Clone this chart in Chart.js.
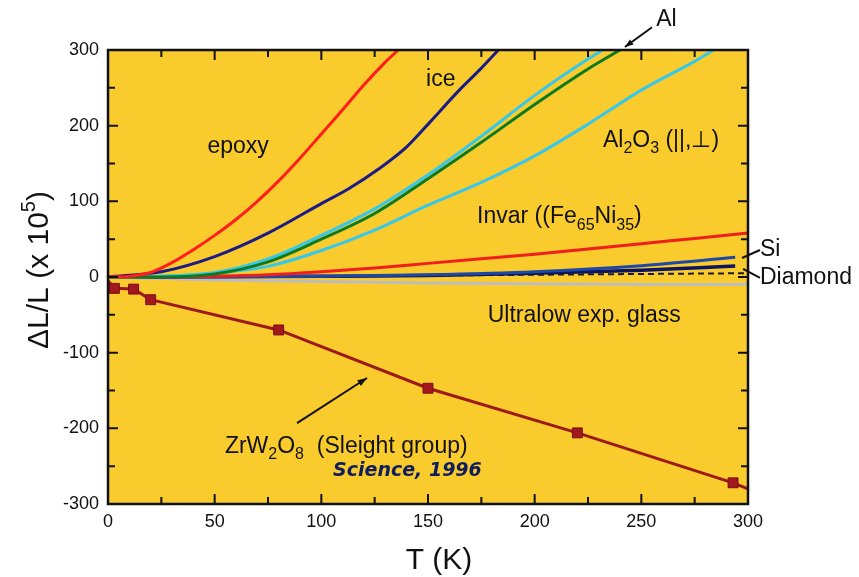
<!DOCTYPE html>
<html>
<head>
<meta charset="utf-8">
<script src="https://cdn.jsdelivr.net/npm/chart.js@4/dist/chart.umd.min.js"></script>
<style>
  html, body { margin: 0; padding: 0; background: #fff; }
  #wrap { width: 859px; height: 577px; }
</style>
</head>
<body>
<div id="wrap"><canvas id="chart" width="859" height="577"></canvas></div>
<script>
// temperatures (K) and dL/L (x 10^5)
const T_EPOXY = [0, 10, 20, 30, 40, 50, 60, 70, 80, 90, 100, 110, 120, 130, 136];
const EPOXY = [0, 1, 6, 19, 36, 55, 76, 100, 127, 157, 189, 221, 254, 284, 300];

const T_ICE = [0, 25, 50, 75, 100, 113, 127, 140, 151, 164, 175, 183];
const ICE = [0, 7, 27, 58, 97, 117, 143, 172, 205, 245, 276, 300];

const T_AL = [0, 25, 50, 75, 100, 125, 150, 175, 200, 225, 240];
const AL = [0, 0, 4, 20, 50, 84, 130, 178, 228, 275, 300];

const T_AL2O3_PAR = [0, 25, 50, 75, 100, 125, 150, 175, 200, 225, 232];
const AL2O3_PAR = [0, 1, 6, 24, 55, 90, 135, 186, 240, 288, 300];

const T_AL2O3_PERP = [0, 25, 50, 75, 100, 125, 150, 175, 200, 225, 250, 275, 284];
const AL2O3_PERP = [0, 1, 5, 14, 35, 62, 95, 125, 160, 202, 247, 285, 300];

const T_INVAR = [0, 25, 50, 75, 100, 125, 150, 175, 200, 225, 250, 275, 300];
const INVAR = [0, 0, 1, 3, 7, 12, 18, 24, 30, 37, 44, 51, 58];

const T_SI = [0, 50, 100, 150, 200, 250, 294];
const SI = [0, 0, 1, 3, 7, 15, 26];

const T_NAVY = [0, 100, 150, 200, 250, 294];
const NAVY = [0, 1, 2, 5, 9, 14.5];

const T_DIAMOND = [0, 100, 200, 300];
const DIAMOND = [0, 1, 3, 5];

const T_GLASS = [0, 50, 100, 150, 200, 250, 300];
const GLASS = [0, -4, -6, -8, -9, -10, -10];

const T_ZRW = [0, 3, 12, 20, 80, 150, 220, 293, 300];
const ZRW = [-5, -15, -16, -30, -70, -147, -206, -272, -280];
const ZRW_MARKER = [0, 7, 7, 7, 7, 7, 7, 7, 0];

const X_TICKS = [0, 50, 100, 150, 200, 250, 300];
const Y_TICKS = [-300, -200, -100, 0, 100, 200, 300];

const FONT = '"Liberation Sans", Arial, Helvetica, sans-serif';

const pts = (xs, ys) => xs.map((x, i) => ({ x, y: ys[i] }));

const curve = (label, xs, ys, color, extra) => Object.assign({
  label,
  data: pts(xs, ys),
  borderColor: color,
  backgroundColor: color,
  borderWidth: 3,
  pointRadius: 0,
  cubicInterpolationMode: 'monotone',
  fill: false
}, extra || {});

const datasets = [
  curve('ZrW2O8', T_ZRW, ZRW, '#9C1A1E', {
    pointRadius: ZRW_MARKER,
    pointStyle: 'rect',
    pointBackgroundColor: '#A3171F',
    pointBorderColor: '#7A0E12',
    pointBorderWidth: 1,
    cubicInterpolationMode: 'default',
    tension: 0,
    order: 0
  }),
  curve('epoxy', T_EPOXY, EPOXY, '#FF1E1E', { order: 1 }),
  curve('ice', T_ICE, ICE, '#1C1C86', { order: 2 }),
  curve('Al', T_AL, AL, '#0E7A1E', { order: 3 }),
  curve('Al2O3 par', T_AL2O3_PAR, AL2O3_PAR, '#35C8EC', { order: 4 }),
  curve('Al2O3 perp', T_AL2O3_PERP, AL2O3_PERP, '#35C8EC', { order: 5 }),
  curve('Invar', T_INVAR, INVAR, '#F01E1E', { order: 6 }),
  curve('Si', T_SI, SI, '#1E48A6', { order: 7 }),
  curve('navy', T_NAVY, NAVY, '#0C1660', { order: 8, borderWidth: 3.5 }),
  curve('Diamond', T_DIAMOND, DIAMOND, '#1A1A1A', { order: 9, borderWidth: 2, borderDash: [6, 4] }),
  curve('glass', T_GLASS, GLASS, '#BDBDBD', { order: 10 })
];

// rich text: segments [text, 'sub'|'sup'|undefined]
function richText(ctx, segs, x, y, size, color, align) {
  const runs = segs.map(([t, k]) => ({ t, k, s: k ? Math.round(size * 0.68) : size }));
  let total = 0;
  runs.forEach(r => { ctx.font = `${r.s}px ${FONT}`; r.w = ctx.measureText(r.t).width; total += r.w; });
  let cx = align === 'center' ? x - total / 2 : x;
  ctx.fillStyle = color;
  ctx.textAlign = 'left';
  ctx.textBaseline = 'alphabetic';
  runs.forEach(r => {
    ctx.font = `${r.s}px ${FONT}`;
    const dy = r.k === 'sub' ? size * 0.28 : r.k === 'sup' ? -size * 0.42 : 0;
    ctx.fillText(r.t, cx, y + dy);
    cx += r.w;
  });
}

function arrow(ctx, x1, y1, x2, y2, head) {
  ctx.beginPath();
  ctx.moveTo(x1, y1);
  ctx.lineTo(x2, y2);
  ctx.stroke();
  if (!head) return;
  const a = Math.atan2(y2 - y1, x2 - x1);
  ctx.beginPath();
  ctx.moveTo(x2, y2);
  ctx.lineTo(x2 - head * Math.cos(a - 0.35), y2 - head * Math.sin(a - 0.35));
  ctx.lineTo(x2 - head * Math.cos(a + 0.35), y2 - head * Math.sin(a + 0.35));
  ctx.closePath();
  ctx.fill();
}

const labels = [
  { at: [61, 164], segs: [['epoxy']], align: 'center', size: 23 },
  { at: [156, 253], segs: [['ice']], align: 'center', size: 23 },
  { at: [257, 332], segs: [['Al']], size: 23 },
  { at: [232, 172], segs: [['Al'], ['2', 'sub'], ['O'], ['3', 'sub'], [' (||,\u22A5)']], size: 23 },
  { at: [173, 71], segs: [['Invar ((Fe'], ['65', 'sub'], ['Ni'], ['35', 'sub'], [')']], size: 23 },
  { at: [305.6, 27.7], segs: [['Si']], size: 23 },
  { at: [305.6, -9.5], segs: [['Diamond']], size: 23 },
  { at: [178, -59.5], segs: [['Ultralow exp. glass']], size: 23 },
  { at: [54.8, -232.6], segs: [['ZrW'], ['2', 'sub'], ['O'], ['8', 'sub'], ['  (Sleight group)']], size: 23 }
];

const pointers = [
  { from: [255, 330], to: [242.3, 304], head: 9 },
  { from: [305.6, 35.7], to: [297.2, 25.1], head: 0 },
  { from: [305.6, -1.3], to: [297.7, 10.6], head: 0 },
  { from: [88.6, -193], to: [121.4, -133.5], head: 10 }
];

const framePlugin = {
  id: 'frame',
  beforeDraw(chart) {
    const { ctx, chartArea: a } = chart;
    ctx.save();
    ctx.fillStyle = '#F9CB2C';
    ctx.fillRect(a.left, a.top, a.right - a.left, a.bottom - a.top);
    ctx.restore();
  },
  afterDatasetsDraw(chart) {
    const { ctx, chartArea: a, scales: { x, y } } = chart;
    ctx.save();
    // inward ticks on all four sides
    ctx.strokeStyle = '#111';
    ctx.lineWidth = 2;
    for (let t = 0; t <= 300; t += 25) {
      const px = x.getPixelForValue(t);
      const len = t % 50 === 0 ? 10 : 7;
      ctx.beginPath();
      ctx.moveTo(px, a.bottom); ctx.lineTo(px, a.bottom - len);
      ctx.moveTo(px, a.top); ctx.lineTo(px, a.top + len);
      ctx.stroke();
    }
    for (let v = -300; v <= 300; v += 50) {
      const py = y.getPixelForValue(v);
      const len = v % 100 === 0 ? 10 : 7;
      ctx.beginPath();
      ctx.moveTo(a.left, py); ctx.lineTo(a.left + len, py);
      ctx.moveTo(a.right, py); ctx.lineTo(a.right - len, py);
      ctx.stroke();
    }
    ctx.lineWidth = 2.5;
    ctx.strokeRect(a.left, a.top, a.right - a.left, a.bottom - a.top);

    // annotations
    labels.forEach(l => {
      richText(ctx, l.segs, x.getPixelForValue(l.at[0]), y.getPixelForValue(l.at[1]), l.size, '#111', l.align);
    });
    ctx.strokeStyle = '#111';
    ctx.fillStyle = '#111';
    ctx.lineWidth = 2;
    pointers.forEach(p => {
      arrow(ctx, x.getPixelForValue(p.from[0]), y.getPixelForValue(p.from[1]),
        x.getPixelForValue(p.to[0]), y.getPixelForValue(p.to[1]), p.head);
    });
    ctx.font = `italic bold 19px "DejaVu Sans", sans-serif`;
    ctx.fillStyle = '#0F1E5C';
    ctx.textAlign = 'left';
    ctx.textBaseline = 'alphabetic';
    ctx.fillText('Science, 1996', x.getPixelForValue(105.5), y.getPixelForValue(-263));

    // axis titles
    richText(ctx, [['T (K)']], (a.left + a.right) / 2 + 11, 569, 30, '#111', 'center');
    ctx.translate(48, (a.top + a.bottom) / 2 - 7);
    ctx.rotate(-Math.PI / 2);
    richText(ctx, [['\u0394L/L (x 10'], ['5', 'sup'], [')']], 0, 0, 30, '#111', 'center');
    ctx.restore();
  }
};

Chart.defaults.font.family = FONT;
Chart.defaults.color = '#111';

new Chart(document.getElementById('chart'), {
  type: 'line',
  data: { datasets },
  options: {
    responsive: false,
    animation: false,
    events: [],
    layout: { padding: { top: 50, right: 111, left: 0, bottom: 0 } },
    plugins: { legend: { display: false }, tooltip: { enabled: false } },
    scales: {
      x: {
        type: 'linear',
        min: 0,
        max: 300,
        afterFit: (s) => { s.height = 73; },
        afterBuildTicks: (s) => { s.ticks = X_TICKS.map(v => ({ value: v })); },
        grid: { display: false, drawTicks: false },
        border: { display: false },
        ticks: { padding: 7, font: { size: 18 }, color: '#111', maxRotation: 0 }
      },
      y: {
        type: 'linear',
        min: -300,
        max: 300,
        afterFit: (s) => { s.width = 108; },
        afterBuildTicks: (s) => { s.ticks = Y_TICKS.map(v => ({ value: v })); },
        grid: { display: false, drawTicks: false },
        border: { display: false },
        ticks: { padding: 9, font: { size: 18 }, color: '#111' }
      }
    }
  },
  plugins: [framePlugin]
});
</script>
</body>
</html>
